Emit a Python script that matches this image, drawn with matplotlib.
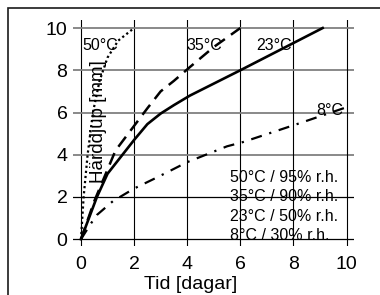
import matplotlib.pyplot as plt
import numpy as np
from matplotlib.patches import Rectangle

plt.rcParams['font.family'] = ['Liberation Sans', 'DejaVu Sans']

# data (tid i dagar, härddjup i mm)
t50 = [0, 0.1, 0.25, 0.45, 0.7, 1.0, 1.4, 2.0]
d50 = [0, 2.0, 4.0, 6.0, 7.5, 8.6, 9.4, 10.0]

t35 = [0, 0.5, 1.0, 1.3, 1.9, 2.5, 3.0, 3.5, 4.1, 5.0, 6.0]
d35 = [0, 1.8, 3.3, 4.2, 5.2, 6.2, 7.0, 7.5, 8.15, 9.1, 10.0]

t23 = [0, 0.3, 0.6, 1.0, 1.5, 2.0, 2.5, 3.0, 3.5, 4.1, 6.0, 9.1]
d23 = [0, 1.0, 2.0, 3.1, 3.9, 4.7, 5.45, 5.95, 6.35, 6.8, 8.0, 10.0]

t8 = [0, 0.35, 0.6, 1.2, 2.0, 2.9, 4.0, 5.5, 6.1, 8.25, 10.0]
d8 = [0, 0.7, 1.15, 1.8, 2.4, 2.95, 3.65, 4.4, 4.6, 5.5, 6.25]

ticks = [0, 2, 4, 6, 8, 10]
kurvtext = ['50°C', '35°C', '23°C', '8°C']
legendtext = ['50°C / 95% r.h.', '35°C / 90% r.h.', '23°C / 50% r.h.', '8°C / 30% r.h.']

fig = plt.figure(figsize=(3.8, 2.95), dpi=100)
ax = fig.add_axes([73/380, 1-246/295, 281/380, 226/295])
ax.set_xlim(-0.3, 10.28)
ax.set_ylim(-0.32, 10.38)
for s in ax.spines.values():
    s.set_visible(False)

# rutnät: lodräta svarta, vågräta grå (utom 0 och 2)
for v in ticks:
    ax.axvline(v, color='black', lw=0.8, zorder=1)
    if v <= 2:
        ax.axhline(v, color='black', lw=0.9, zorder=1)
    else:
        ax.axhline(v, color='#808080', lw=1.3, zorder=1)

ax.plot(t50, d50, color='black', lw=1.6, linestyle=(0, (1, 1.3)), zorder=3)
ax.plot(t35, d35, color='black', lw=1.8, linestyle=(0, (5, 3)), zorder=3)
ax.plot(t23, d23, color='black', lw=1.9, linestyle='-', zorder=3)
ax.plot(t8, d8, color='black', lw=1.6, linestyle=(0, (5, 3.5, 1, 3.5)), zorder=3)

ax.set_xticks(ticks)
ax.set_yticks(ticks)
ax.tick_params(length=0, labelsize=14)
ax.tick_params(axis='x', pad=7)
ax.tick_params(axis='y', pad=4)

# kurvetiketter
pos = [(0.04, 8.96), (3.99, 8.96), (6.59, 8.96), (8.85, 5.9)]
for txt, (x, y) in zip(kurvtext, pos):
    ax.text(x, y, txt, fontsize=11.5, va='baseline', ha='left', zorder=4)

# förklaring utan linjer
for i, txt in enumerate(legendtext):
    ax.text(5.61, 2.71 - i*0.915, txt, fontsize=11.5, va='baseline', ha='left', zorder=4)

fig.text(190.5/380, 1-289/295, 'Tid [dagar]', fontsize=14, ha='center', va='baseline')
fig.text(98/380, 1-122/295, 'Härddjup [mm]', fontsize=13.5, rotation=90,
         ha='center', va='center')

# ram runt figuren
fig.patches.append(Rectangle((7.5/380, -0.1), 1.2, 1-7.5/295+0.1, transform=fig.transFigure,
                             fill=False, edgecolor='#1a1a1a', lw=1.2))

fig.savefig('out.png', dpi=100)
